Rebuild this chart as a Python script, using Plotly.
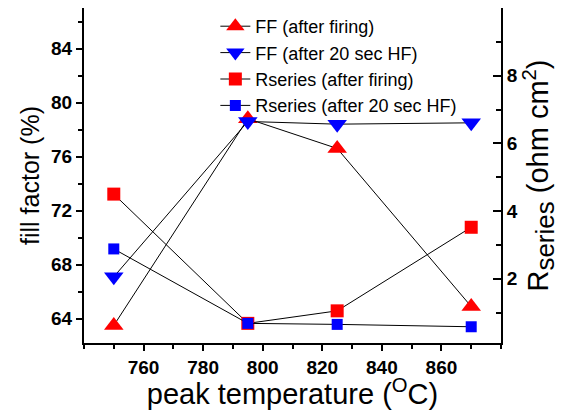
import plotly.graph_objects as go

temps = [750, 795, 825, 870]
ff_fired = [63.5, 78.8, 76.6, 64.9]
ff_hf = [67.1, 78.6, 78.4, 78.5]
rs_fired = [4.5, 0.68, 1.05, 3.52]
rs_hf = [2.88, 0.68, 0.65, 0.58]

names = ["FF (after firing)", "FF (after 20 sec HF)",
         "Rseries (after firing)", "Rseries (after 20 sec HF)"]

FONT = "Arial"
RED = "#ff0000"
BLUE = "#0000ff"

fig = go.Figure()
fig.add_trace(go.Scatter(x=temps, y=ff_fired, name=names[0], mode="lines+markers",
                         line=dict(color="black", width=1),
                         marker=dict(symbol="triangle-up", size=17, color=RED)))
fig.add_trace(go.Scatter(x=temps, y=ff_hf, name=names[1], mode="lines+markers",
                         line=dict(color="black", width=1),
                         marker=dict(symbol="triangle-down", size=17, color=BLUE)))
fig.add_trace(go.Scatter(x=temps, y=rs_fired, name=names[2], mode="lines+markers", yaxis="y2",
                         line=dict(color="black", width=1),
                         marker=dict(symbol="square", size=13, color=RED)))
fig.add_trace(go.Scatter(x=temps, y=rs_hf, name=names[3], mode="lines+markers", yaxis="y2",
                         line=dict(color="black", width=1),
                         marker=dict(symbol="square", size=11, color=BLUE)))

tickfont = dict(family="Liberation Sans", size=19, color="black", weight="bold")

fig.update_layout(
    width=565, height=410,
    margin=dict(l=84, r=64, t=8, b=67, autoexpand=False),
    paper_bgcolor="white", plot_bgcolor="white",
    font=dict(family=FONT, color="black"),
    showlegend=True,
    legend=dict(x=0.315, y=1.0, xanchor="left", yanchor="top",
                font=dict(family=FONT, size=18, color="black"),
                bgcolor="rgba(0,0,0,0)", tracegroupgap=0, itemwidth=30),
    xaxis=dict(range=[740, 880], tickvals=[760, 780, 800, 820, 840, 860],
               automargin=False,
               showline=True, linecolor="black", linewidth=2,
               ticks="outside", ticklen=6, tickwidth=1.5, tickcolor="black",
               minor=dict(dtick=10, tick0=740, ticks="outside", ticklen=4, tickcolor="black"),
               showgrid=False, zeroline=False, tickfont=tickfont,
               title=dict(text="peak temperature (<sup>O</sup>C)",
                          font=dict(family=FONT, size=29, color="black"), standoff=8)),
    xaxis2=dict(range=[740, 880], overlaying="x", side="top", tickvals=[760, 780, 800, 820, 840, 860],
                showline=True, linecolor="black", linewidth=2, showticklabels=False,
                ticks="inside", ticklen=6, tickwidth=1.5, tickcolor="black", automargin=False,
                minor=dict(dtick=10, tick0=740, ticks="inside", ticklen=3, tickcolor="black"),
                showgrid=False, zeroline=False),
    yaxis=dict(range=[62.2, 87], tickvals=[64, 68, 72, 76, 80, 84],
               automargin=False,
               showline=True, linecolor="black", linewidth=2,
               ticks="outside", ticklen=6, tickwidth=1.5, tickcolor="black",
               minor=dict(dtick=2, tick0=62, ticks="outside", ticklen=4, tickcolor="black"),
               showgrid=False, zeroline=False, tickfont=tickfont,
               title=dict(text="fill factor (%)",
                          font=dict(family=FONT, size=25, color="black"), standoff=4)),
    yaxis2=dict(range=[0.1, 10], overlaying="y", side="right", tickvals=[2, 4, 6, 8],
                automargin=False,
                showline=True, linecolor="black", linewidth=2,
                ticks="inside", ticklen=8, tickwidth=1.5, tickcolor="black",
                minor=dict(dtick=1, tick0=0, ticks="inside", ticklen=5, tickcolor="black"),
                showgrid=False, zeroline=False, tickfont=tickfont,
                title=dict(text="R<sub><span style=\"font-size:26px\">series</span></sub> (ohm cm<sup>2</sup>)",
                           font=dict(family=FONT, size=29, color="black"), standoff=10)),
)

fig.write_html("out.html")
